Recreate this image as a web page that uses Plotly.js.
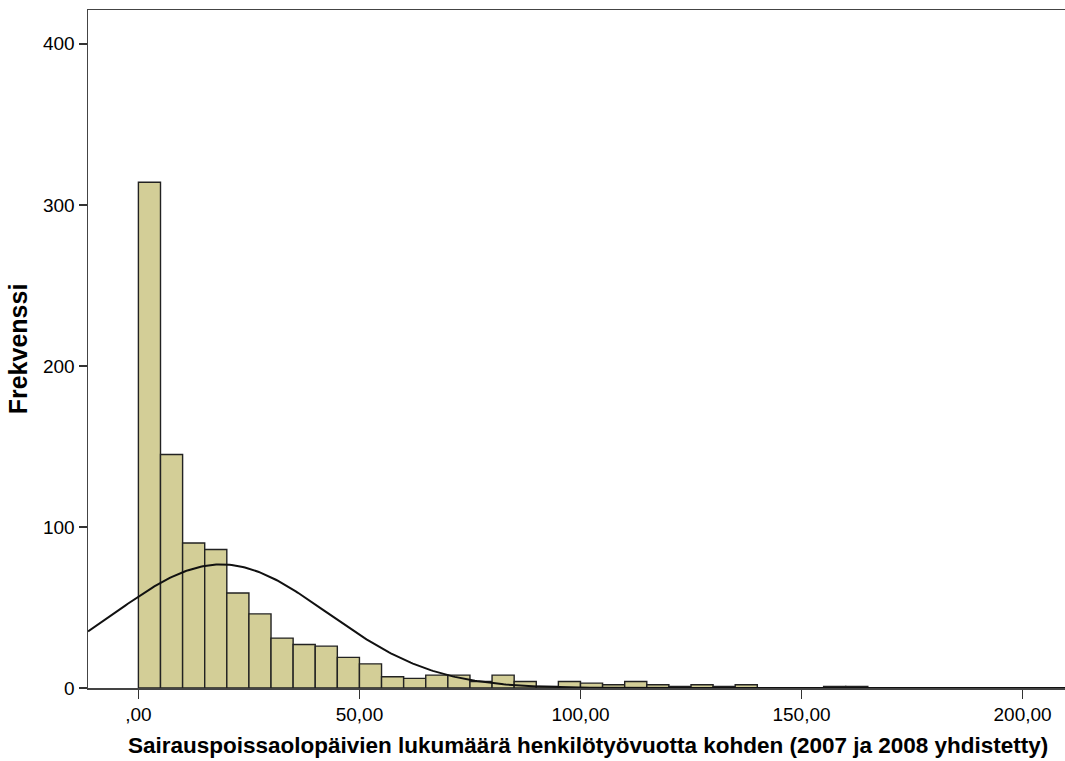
<!DOCTYPE html>
<html>
<head>
<meta charset="utf-8">
<script src="https://cdn.plot.ly/plotly-3.0.1.min.js"></script>
<style>
html,body{margin:0;padding:0;background:#fff;}
#chart{width:1065px;height:761px;}
</style>
</head>
<body>
<div id="chart"></div>
<script>
// Histogram bins (lower edge of each 5-day bin) and their frequencies
const binStarts = [0,5,10,15,20,25,30,35,40,45,50,55,60,65,70,75,80,85,90,95,100,105,110,115,120,125,130,135,140,145,150,155,160];
const counts    = [314,145,90,86,59,46,31,27,26,19,15,7,6,8,8,4,8,4,1,4,3,2,4,2,1,2,1,2,0,0,0,1,1];
const binWidth = 5;

// Fitted normal curve parameters
const fitMean = 18.7;
const fitSD = 24.1;

// Axis tick labels
const xTickVals = [0,50,100,150,200];
const xTickText = [",00","50,00","100,00","150,00","200,00"];
const yTickVals = [0,100,200,300,400];
const yTickText = ["0","100","200","300","400"];

const xTitle = "Sairauspoissaolopäivien lukumäärä henkilötyövuotta kohden (2007 ja 2008 yhdistetty)";
const yTitle = "Frekvenssi";

const N = counts.reduce((a,b)=>a+b,0);
const barX = binStarts.map(s => s + binWidth/2);

const xMin = -11.4, xMax = 209.6;
const curveX = [], curveY = [];
for (let x = xMin; x <= xMax + 0.001; x += 0.5) {
  curveX.push(x);
  curveY.push(N * binWidth / (fitSD * Math.sqrt(2*Math.PI)) * Math.exp(-Math.pow(x - fitMean, 2) / (2*fitSD*fitSD)));
}

const font = "'Liberation Sans Narrow', 'Arial Narrow', 'Liberation Sans', Arial, sans-serif";

const traces = [
  {
    type: 'bar',
    x: barX,
    y: counts,
    width: binWidth,
    marker: {color: 'rgb(211,206,151)', line: {color: '#222', width: 1.4}},
    hoverinfo: 'x+y',
    showlegend: false
  },
  {
    type: 'scatter',
    mode: 'lines',
    x: curveX,
    y: curveY,
    line: {color: '#111', width: 2},
    hoverinfo: 'skip',
    showlegend: false
  }
];

const layout = {
  width: 1065,
  height: 761,
  margin: {l: 88, r: 0, t: 10, b: 73},
  paper_bgcolor: '#fff',
  plot_bgcolor: '#fff',
  bargap: 0,
  font: {family: font, color: '#000', size: 19},
  xaxis: {
    range: [xMin, xMax],
    tickvals: xTickVals,
    ticktext: xTickText,
    ticks: 'outside',
    ticklen: 9,
    tickwidth: 1.5,
    tickcolor: '#333',
    showline: true,
    linecolor: '#444',
    linewidth: 1.5,
    mirror: true,
    showgrid: false,
    zeroline: false,
    tickfont: {family: font, size: 19, color: '#000'}
  },
  yaxis: {
    range: [0, 421],
    tickvals: yTickVals,
    ticktext: yTickText,
    ticks: 'outside',
    ticklen: 8,
    tickwidth: 1.5,
    tickcolor: '#333',
    showline: true,
    linecolor: '#444',
    linewidth: 1.5,
    mirror: true,
    showgrid: false,
    zeroline: false,
    tickfont: {family: font, size: 19, color: '#000'},
    title: {text: yTitle, font: {family: font, size: 25, color: '#000', weight: 'bold'}, standoff: 8}
  },
  annotations: [
    {
      text: xTitle,
      xref: 'paper', yref: 'paper',
      x: 0.512, y: 0, yshift: -57,
      xanchor: 'center', yanchor: 'middle',
      showarrow: false,
      font: {family: font, size: 22.5, color: '#000', weight: 'bold'}
    }
  ]
};

Plotly.newPlot('chart', traces, layout, {displayModeBar: false, staticPlot: true});
</script>
</body>
</html>
